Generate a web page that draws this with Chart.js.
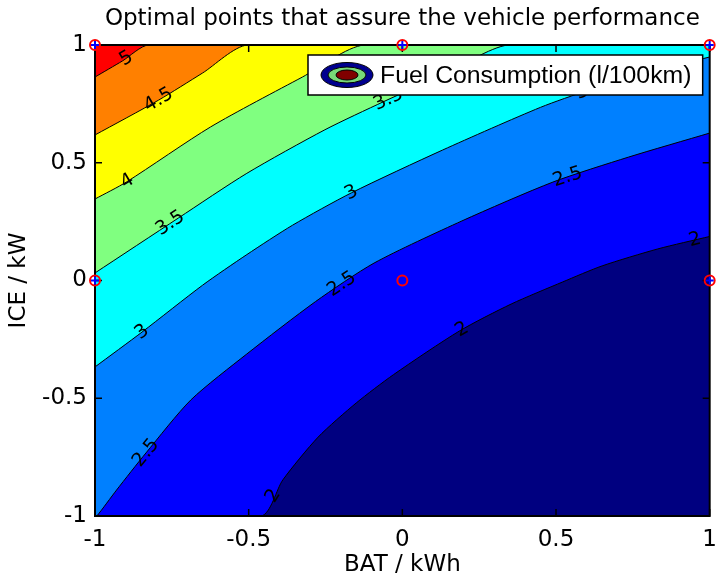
<!DOCTYPE html>
<html>
<head>
<meta charset="utf-8">
<script src="https://cdn.jsdelivr.net/npm/chart.js@4.4.0/dist/chart.umd.min.js"></script>
<style>
    body { margin: 0; background: #fff; }
    #wrap { width: 727px; height: 580px; }
</style>
</head>
<body>
<div id="wrap"><canvas id="contourChart" width="727" height="580"></canvas></div>
<script>
// Contour levels of fuel consumption (l/100km)
const levels = [2, 2.5, 3, 3.5, 4, 4.5, 5];

// Traced boundary of each level, [BAT kWh, ICE kW]
const line2 = [[-1, -1], [-0.459, -1], [-0.389, -0.847], [-0.274, -0.665], [-0.150, -0.520], [-0.029, -0.400],
    [0.185, -0.215], [0.354, -0.100], [0.522, -0.006], [0.650, 0.062], [0.831, 0.134], [1, 0.187]];
const line25 = [[-1, -1], [-0.994, -1], [-0.930, -0.890], [-0.834, -0.732], [-0.688, -0.507], [-0.506, -0.312],
    [-0.283, -0.090], [-0.092, 0.074], [0.194, 0.253], [0.490, 0.418], [0.736, 0.524], [1, 0.626]];
const line3 = [[-1, -0.367], [-0.847, -0.219], [-0.650, -0.020], [-0.506, 0.110], [-0.357, 0.235], [-0.166, 0.372],
    [0.131, 0.554], [0.449, 0.735], [0.608, 0.809], [0.799, 0.885], [1, 0.949]];
const line35 = [[-1, 0.032], [-0.729, 0.265], [-0.506, 0.455], [-0.252, 0.640], [-0.060, 0.760], [0.131, 0.873],
    [0.344, 1], [1, 1]];
const line4 = [[-1, 0.346], [-0.898, 0.418], [-0.624, 0.652], [-0.325, 0.864], [-0.124, 1], [1, 1]];
const line45 = [[-1, 0.618], [-0.793, 0.766], [-0.650, 0.881], [-0.503, 1], [1, 1]];
const line5 = [[-1, 0.864], [-0.911, 0.932], [-0.825, 1], [1, 1]];
const contourLines = [line2, line25, line3, line35, line4, line45, line5];

// Optimal points
const pointsX = [-1, 0, 1, -1, 0, 1];
const pointsY = [1, 1, 1, 0, 0, 0];
const feasibleX = [-1, 0, 1, -1, 1];
const feasibleY = [1, 1, 1, 0, 0];

// Inline contour labels
const labelLevels = [5, 4.5, 4, 3.5, 3.5, 3, 3, 3, 2.5, 2.5, 2.5, 2, 2, 2];
const labelX = [-0.898, -0.793, -0.895, -0.755, -0.045, -0.847, -0.166, 0.586, -0.834, -0.197, 0.538, -0.42, 0.194, 0.952];

const xTickLabels = ['-1', '-0.5', '0', '0.5', '1'];
const yTickLabels = ['-1', '-0.5', '0', '0.5', '1'];

// Jet colours: fill below each level, plus the band above the top level
const bandColors = ['#000080', '#0000ff', '#0080ff', '#00ffff', '#80ff80', '#ffff00', '#ff8000'];
const topBandColor = '#ff0000';
const FONT = 'DejaVu Sans';

// y of a polyline at x (linear)
function lineY(line, x) {
    for (let i = 1; i < line.length; i++) {
        const [x0, y0] = line[i - 1];
        const [x1, y1] = line[i];
        if (x >= x0 && x <= x1 && x1 > x0) {
            return y0 + (y1 - y0) * (x - x0) / (x1 - x0);
        }
    }
    return line[line.length - 1][1];
}

// Paint the highest band behind everything
const bandBackground = {
    id: 'bandBackground',
    beforeDatasetsDraw(chart) {
        const { ctx, chartArea: a } = chart;
        ctx.save();
        ctx.fillStyle = topBandColor;
        ctx.fillRect(a.left, a.top, a.right - a.left, a.bottom - a.top);
        ctx.restore();
    }
};

// Contour labels, axes box and inward ticks, drawn after the last contour
const contourFrame = {
    id: 'contourFrame',
    afterDatasetDraw(chart, args) {
        if (args.index !== 2) return;
        const { ctx, chartArea: a, scales: { x, y } } = chart;
        ctx.save();

        ctx.font = `19px "${FONT}"`;
        ctx.fillStyle = '#000';
        ctx.textAlign = 'center';
        ctx.textBaseline = 'middle';
        labelLevels.forEach((lvl, i) => {
            const line = contourLines[levels.indexOf(lvl)];
            const lx = labelX[i];
            const px = x.getPixelForValue(lx);
            const py = y.getPixelForValue(lineY(line, lx));
            const p0x = x.getPixelForValue(lx - 0.04), p0y = y.getPixelForValue(lineY(line, lx - 0.04));
            const p1x = x.getPixelForValue(lx + 0.04), p1y = y.getPixelForValue(lineY(line, lx + 0.04));
            ctx.save();
            ctx.translate(px, py);
            ctx.rotate(Math.atan2(p1y - p0y, p1x - p0x));
            ctx.fillText(String(lvl), 0, 0);
            ctx.restore();
        });

        ctx.strokeStyle = '#000';
        ctx.lineWidth = 2;
        ctx.strokeRect(a.left, a.top, a.right - a.left, a.bottom - a.top);

        ctx.lineWidth = 1.5;
        ctx.beginPath();
        x.ticks.forEach(t => {
            const px = x.getPixelForValue(t.value);
            ctx.moveTo(px, a.bottom); ctx.lineTo(px, a.bottom - 7);
            ctx.moveTo(px, a.top); ctx.lineTo(px, a.top + 7);
        });
        y.ticks.forEach(t => {
            const py = y.getPixelForValue(t.value);
            ctx.moveTo(a.left, py); ctx.lineTo(a.left + 7, py);
            ctx.moveTo(a.right, py); ctx.lineTo(a.right - 7, py);
        });
        ctx.stroke();
        ctx.restore();
    }
};

// MATLAB style legend box with a contour icon
const contourLegend = {
    id: 'contourLegend',
    afterDraw(chart) {
        const { ctx, chartArea: a } = chart;
        const text = 'Fuel Consumption (l/100km)';
        ctx.save();
        const left = a.left + 213;
        const right = a.right - 7;
        const top = a.top + 10;
        const h = 40;
        ctx.fillStyle = '#fff';
        ctx.fillRect(left, top, right - left, h);
        ctx.strokeStyle = '#000';
        ctx.lineWidth = 1.5;
        ctx.strokeRect(left, top, right - left, h);

        const cx = left + 39, cy = top + h / 2;
        [[26, 12.5, '#00008f'], [19, 8, '#78d878'], [11, 5, '#800000']].forEach(([rx, ry, c]) => {
            ctx.beginPath();
            ctx.ellipse(cx, cy, rx, ry, 0, 0, Math.PI * 2);
            ctx.fillStyle = c;
            ctx.fill();
            ctx.lineWidth = 1;
            ctx.strokeStyle = '#000';
            ctx.stroke();
        });

        // fit the text between the icon and the right border
        let size = 26;
        ctx.font = `${size}px "Liberation Sans"`;
        const room = right - left - 83;
        const tw = ctx.measureText(text).width;
        if (tw > room) {
            size = size * room / tw;
            ctx.font = `${size}px "Liberation Sans"`;
        }
        ctx.fillStyle = '#000';
        ctx.textAlign = 'left';
        ctx.textBaseline = 'middle';
        ctx.fillText(text, left + 72, cy + 1);
        ctx.restore();
    }
};

const contourDatasets = contourLines.map((line, i) => ({
    label: String(levels[i]),
    data: line.map(([x, y]) => ({ x, y })),
    showLine: true,
    fill: 'start',
    backgroundColor: bandColors[i],
    borderColor: '#000',
    borderWidth: 1,
    pointRadius: 0,
    tension: 0.25
}));

const ctx = document.getElementById('contourChart').getContext('2d');
new Chart(ctx, {
    type: 'scatter',
    data: {
        datasets: [
            {
                label: 'feasible',
                data: feasibleX.map((x, i) => ({ x, y: feasibleY[i] })),
                pointStyle: 'cross',
                pointRadius: 4,
                borderColor: '#0000ff',
                borderWidth: 2,
                clip: false
            },
            {
                label: 'optimal',
                data: pointsX.map((x, i) => ({ x, y: pointsY[i] })),
                pointStyle: 'circle',
                pointRadius: 5,
                borderColor: '#ff0000',
                backgroundColor: 'rgba(0,0,0,0)',
                borderWidth: 2,
                clip: false
            },
            ...contourDatasets
        ]
    },
    options: {
        responsive: false,
        animation: false,
        events: [],
        layout: { padding: { right: 4 } },
        plugins: {
            legend: { display: false },
            tooltip: { enabled: false },
            title: { display: false }
        },
        scales: {
            x: {
                type: 'linear',
                min: -1,
                max: 1,
                grid: { display: false, drawTicks: false },
                border: { display: false },
                ticks: {
                    stepSize: 0.5,
                    autoSkip: false,
                    maxRotation: 0,
                    padding: 10,
                    color: '#000',
                    font: { family: FONT, size: 23 },
                    callback: (v, i) => xTickLabels[i]
                },
                title: {
                    display: true,
                    text: 'BAT / kWh',
                    color: '#000',
                    font: { family: FONT, size: 23 },
                    padding: { top: 0, bottom: 1 }
                },
                afterFit(scale) { scale.height = 64; }
            },
            // top axis only carries the title, centred over the plot
            x2: {
                type: 'linear',
                position: 'top',
                min: -1,
                max: 1,
                grid: { display: false, drawTicks: false },
                border: { display: false },
                ticks: { display: false },
                title: {
                    display: true,
                    text: 'Optimal points that assure the vehicle performance',
                    color: '#000',
                    font: { family: FONT, size: 23 },
                    padding: { top: 5, bottom: 0 }
                },
                afterFit(scale) { scale.height = 45; }
            },
            y: {
                type: 'linear',
                min: -1,
                max: 1,
                grid: { display: false, drawTicks: false },
                border: { display: false },
                ticks: {
                    stepSize: 0.5,
                    autoSkip: false,
                    padding: 8,
                    color: '#000',
                    font: { family: FONT, size: 23 },
                    callback: (v, i) => yTickLabels[i]
                },
                title: {
                    display: true,
                    text: 'ICE / kW',
                    color: '#000',
                    font: { family: FONT, size: 23 },
                    padding: { top: 5, bottom: 0 }
                },
                afterFit(scale) { scale.width = 95; }
            }
        }
    },
    plugins: [bandBackground, contourFrame, contourLegend]
});
</script>
</body>
</html>
